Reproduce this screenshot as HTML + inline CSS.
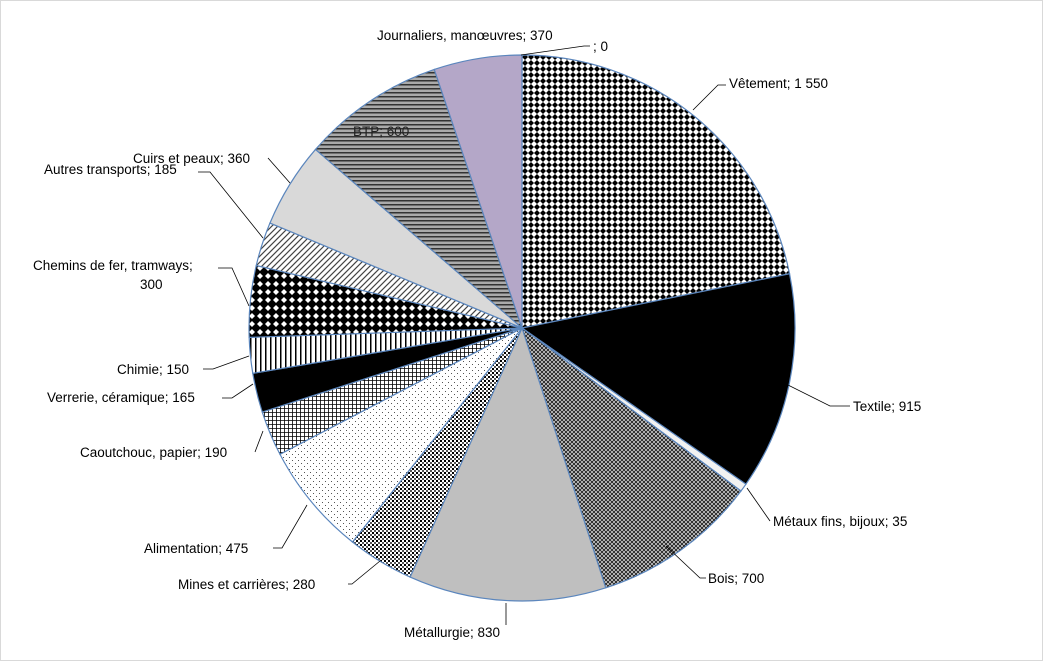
<!DOCTYPE html>
<html><head><meta charset="utf-8"><style>
html,body{margin:0;padding:0;background:#fff}
svg{display:block}
text{font-family:"Liberation Sans",sans-serif;font-size:13.5px;fill:#000}
</style></head><body>
<svg id="s" width="1043" height="661" viewBox="0 0 1043 661" xmlns="http://www.w3.org/2000/svg">
<defs>
<pattern id="p0" width="6" height="6" patternUnits="userSpaceOnUse"><rect width="6" height="6" fill="#fff"/><path d="M3 0L6 3L3 6L0 3Z" fill="#000"/></pattern>
<pattern id="p3" width="4" height="4" patternUnits="userSpaceOnUse"><rect width="4" height="4" fill="#222"/><path d="M0 0L4 4M4 0L0 4" stroke="#fff" stroke-width="0.6"/></pattern>
<pattern id="p5" width="4" height="4" patternUnits="userSpaceOnUse"><rect width="4" height="4" fill="#fff"/><rect width="2" height="2" fill="#000"/><rect x="2" y="2" width="2" height="2" fill="#555"/></pattern>
<pattern id="p6" width="6" height="6" patternUnits="userSpaceOnUse"><rect width="6" height="6" fill="#fff"/><rect x="1" y="1" width="1" height="1" fill="#555"/><rect x="4" y="4" width="1" height="1" fill="#555"/></pattern>
<pattern id="p7" width="4" height="4" patternUnits="userSpaceOnUse"><rect width="4" height="4" fill="#fff"/><path d="M0 0H4M0 0V4" stroke="#000" stroke-width="1.6"/></pattern>
<pattern id="p9" width="5" height="5" patternUnits="userSpaceOnUse"><rect width="5" height="5" fill="#fff"/><rect width="1.5" height="5" fill="#000"/></pattern>
<pattern id="p10" width="8" height="8" patternUnits="userSpaceOnUse"><rect width="8" height="8" fill="#000"/><path d="M4 1L7 4L4 7L1 4Z" fill="#fff"/></pattern>
<pattern id="p11" width="6" height="6" patternUnits="userSpaceOnUse"><rect width="6" height="6" fill="#fff"/><path d="M0 6L6 0M-1 1L1 -1M5 7L7 5" stroke="#444" stroke-width="1.2"/></pattern>
<pattern id="p13" width="4" height="4" patternUnits="userSpaceOnUse"><rect width="4" height="4" fill="#aaa"/><rect width="4" height="1.5" fill="#333"/></pattern>
</defs>
<rect x="0.5" y="0.5" width="1042" height="660" fill="#fff" stroke="#d9d9d9"/>
<g id="pie"></g>
<g stroke="#000" stroke-width="0.8" fill="none">
<polyline points="693,110 718,85 726,85"/>
<polyline points="780,381 830,406 850,406"/>
<polyline points="747,488 770,521"/>
<polyline points="666,546 700,578 706,578"/>
<polyline points="506,603 506,625"/>
<polyline points="380,561 352,584 348,584"/>
<polyline points="307,505 282,548 273,548"/>
<polyline points="263,431 255,452"/>
<polyline points="253,384 232,398 222,398"/>
<polyline points="249,356 213,369 203,369"/>
<polyline points="249,306 232,268 218,268"/>
<polyline points="263,238 210,172 198,172"/>
<polyline points="290,183 268,158"/>
<polyline points="521,55 584,46 590,46"/>
</g>
<text x="377" y="40">Journaliers, manœuvres; 370</text>
<text x="593" y="51">; 0</text>
<text x="729" y="88">Vêtement; 1 550</text>
<text x="853" y="411">Textile; 915</text>
<text x="773" y="526">Métaux fins, bijoux; 35</text>
<text x="708" y="583">Bois; 700</text>
<text x="404" y="637">Métallurgie; 830</text>
<text x="178" y="589">Mines et carrières; 280</text>
<text x="144" y="553">Alimentation; 475</text>
<text x="80" y="457">Caoutchouc, papier; 190</text>
<text x="47" y="402">Verrerie, céramique; 165</text>
<text x="117" y="374">Chimie; 150</text>
<text x="33" y="270">Chemins de fer, tramways;</text>
<text x="140" y="289">300</text>
<text x="44" y="174">Autres transports; 185</text>
<text x="133" y="163">Cuirs et peaux; 360</text>
<text x="353" y="136" style="fill:#222">BTP; 600</text>
</svg>
<script>
var v=[1550,915,35,700,830,280,475,190,165,150,300,185,360,600,370,0];
var f=["url(#p0)","#000","#f2f2f2","url(#p3)","#bfbfbf","url(#p5)","url(#p6)","url(#p7)","#000","url(#p9)","url(#p10)","url(#p11)","#d9d9d9","url(#p13)","#b4a7c8","#fff"];
var cx=522,cy=328,r=273,t=0;v.forEach(function(x){t+=x});
var a=0,g=document.getElementById("pie"),h="";
for(var i=0;i<v.length;i++){if(!v[i])continue;var b=a+v[i]/t*2*Math.PI;
var x1=cx+r*Math.sin(a),y1=cy-r*Math.cos(a),x2=cx+r*Math.sin(b),y2=cy-r*Math.cos(b);
h+='<path d="M'+cx+' '+cy+'L'+x1+' '+y1+'A'+r+' '+r+' 0 '+((b-a)>Math.PI?1:0)+' 1 '+x2+' '+y2+'Z" fill="'+f[i]+'" stroke="#5b86bd" stroke-width="1.2"/>';a=b;}
g.innerHTML=h;
</script>
</body></html>
